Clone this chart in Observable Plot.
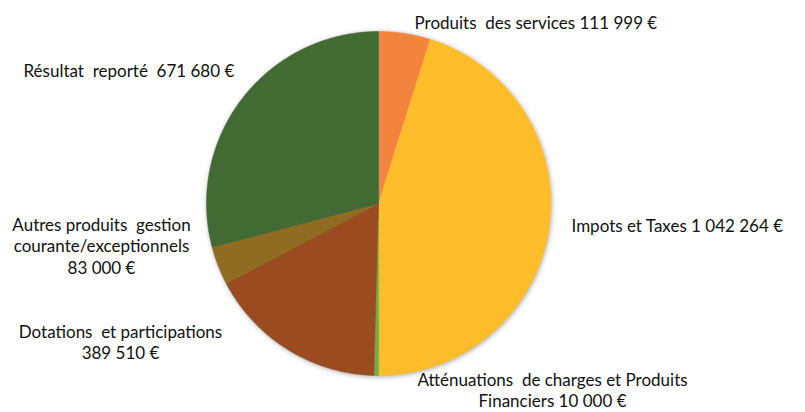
<!DOCTYPE html>
<html><head><meta charset="utf-8">
<script src="https://cdn.jsdelivr.net/npm/d3@7"></script>
<script src="https://cdn.jsdelivr.net/npm/@observablehq/plot@0.6"></script>
<style>
body{margin:0;background:#fff;}
#chart svg{display:block;}
#chart g.pie{filter:drop-shadow(1px 1px 2.5px rgba(0,0,0,0.35));}
</style></head>
<body><div id="chart"></div>
<script>
const categories = ["Produits des services","Impots et Taxes","Atténuations de charges et Produits Financiers","Dotations et participations","Autres produits gestion courante/exceptionnels","Résultat reporté"];
const values = [111999, 1042264, 10000, 389510, 83000, 671680];
const labels = ["Produits  des services 111 999 €","Impots et Taxes 1 042 264 €","Atténuations  de charges et Produits\nFinanciers 10 000 €","Dotations  et participations\n389 510 €","Autres produits  gestion\ncourante/exceptionnels\n83 000 €","Résultat  reporté  671 680 €"];
const colors = ["#F2843E","#FDBD2B","#71AE48","#9A4B20","#906B22","#426A33"];

// layout (pixels) for label anchors
const W = 805, H = 412, CX = 378, CY = 203, R = 172;
const labelLayout = [
  {px:414, py:22, anchor:"start"},
  {px:571, py:225, anchor:"start"},
  {px:552, py:389, anchor:"middle"},
  {px:120, py:341, anchor:"middle"},
  {px:101, py:245, anchor:"middle"},
  {px:23, py:70, anchor:"start"}
];

const pie = d3.pie().sort(null).value(d => d)(values);
const pts = [];
pie.forEach((s, i) => {
  const name = categories[i];
  pts.push({name, x:0, y:0});
  const n = Math.max(4, Math.ceil((s.endAngle - s.startAngle) / 0.01));
  for (let k = 0; k <= n; k++) {
    const a = s.startAngle + (s.endAngle - s.startAngle) * k / n;
    pts.push({name, x: Math.sin(a), y: Math.cos(a)});
  }
  pts.push({name, x:0, y:0});
});

const textData = labels.map((t, i) => ({
  t, anchor: labelLayout[i].anchor,
  x: (labelLayout[i].px - CX) / R,
  y: (CY - labelLayout[i].py) / R
}));

const plot = Plot.plot({
  width: W, height: H, margin: 0,
  x: {domain: [-CX / R, (W - CX) / R], axis: null},
  y: {domain: [-(H - CY) / R, CY / R], axis: null},
  color: {domain: categories, range: colors},
  style: {fontFamily: "Lato, 'Open Sans', sans-serif", background: "#fff"},
  marks: [
    Plot.line(pts, {x: "x", y: "y", z: "name", fill: "name", stroke: "name", strokeWidth: 0.5, curve: "linear", className: "pie"}),
    ...["start", "middle"].map(an => Plot.text(textData.filter(d => d.anchor === an), {
      x: "x", y: "y", text: "t", textAnchor: an, fontSize: 17, fill: "#111", lineHeight: 1.28
    }))
  ]
});
document.getElementById("chart").appendChild(plot);
</script></body></html>
